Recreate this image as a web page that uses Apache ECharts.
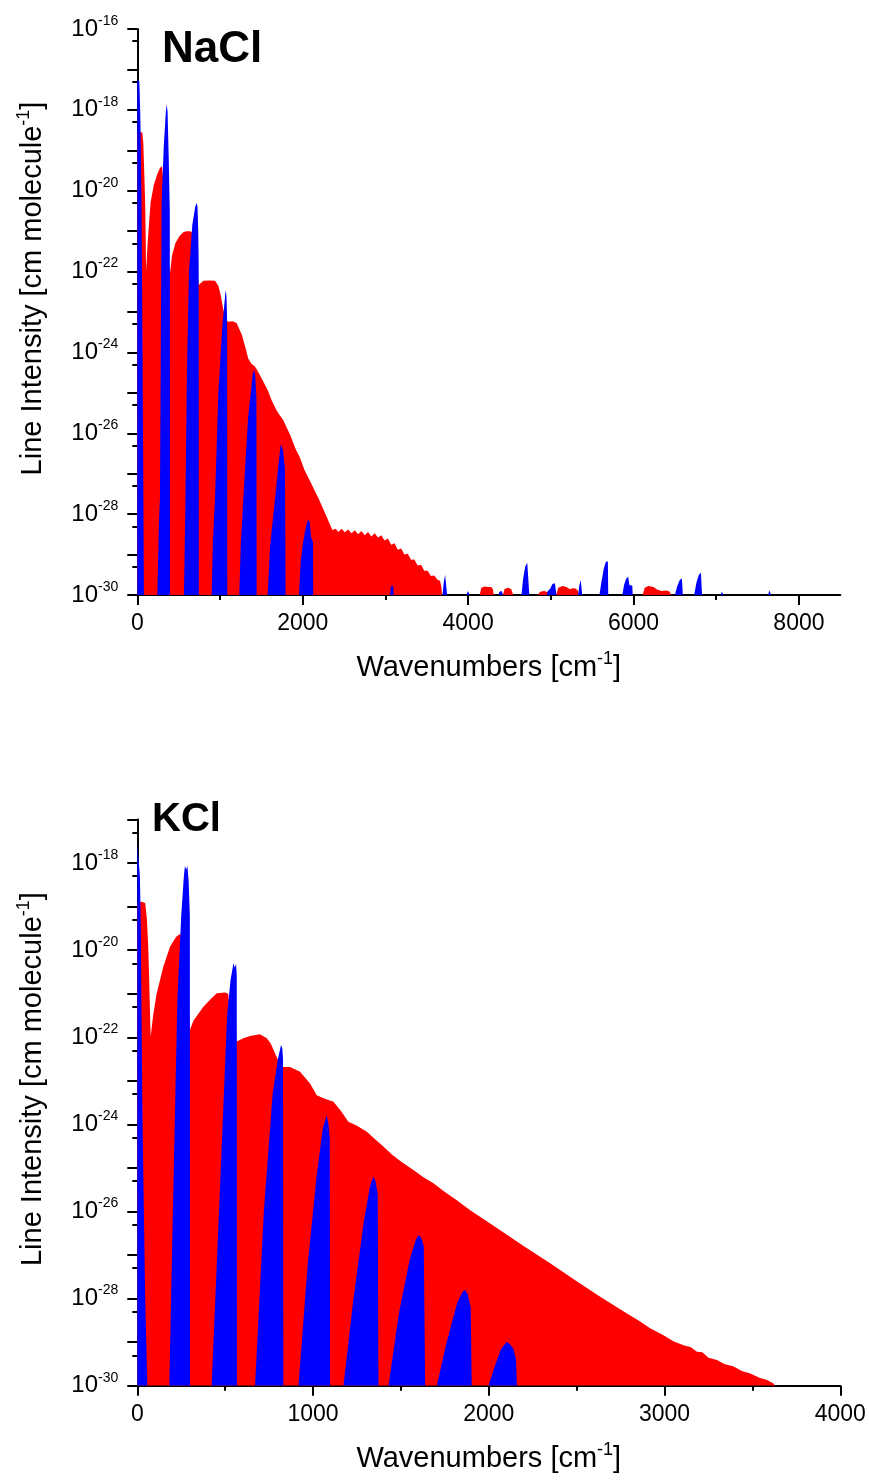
<!DOCTYPE html>
<html>
<head>
<meta charset="utf-8">
<title>NaCl / KCl line intensities</title>
<script src="https://cdn.jsdelivr.net/npm/echarts@6/dist/echarts.min.js"></script>
<style>
    html, body { margin: 0; padding: 0; background: #fff; }
    #chart { width: 869px; height: 1481px; }
</style>
</head>
<body>
<div id="chart"></div>
<script>
    // values are [wavenumber (cm-1), log10 of line intensity]
    const naclRed = [
        [0, -18.6], [33, -18.55], [60, -18.56], [72, -18.8], [82, -19.4], [95, -20.3], [102, -21.2], [106, -22.0],
        [125, -21.3], [160, -20.3], [200, -19.85], [240, -19.6], [270, -19.45], [299, -19.39], [320, -19.42], [345, -20.5], [380, -21.8], [395, -22.05],
        [420, -21.6], [460, -21.3], [510, -21.12], [560, -21.02], [597, -21.0], [640, -21.0], [672, -21.05], [700, -21.2], [722, -21.8], [742, -22.33],
        [800, -22.23], [870, -22.22], [940, -22.23], [980, -22.35], [1010, -22.6], [1040, -22.95], [1075, -23.2], [1100, -23.24], [1150, -23.23],
        [1201, -23.27], [1265, -23.57], [1310, -23.9], [1341, -24.15], [1380, -24.28], [1422, -24.35], [1445, -24.42], [1480, -24.55], [1523, -24.72],
        [1580, -24.95], [1624, -25.18], [1680, -25.42], [1720, -25.55], [1764, -25.67], [1850, -26.05], [1918, -26.41], [1966, -26.6], [2020, -26.9],
        [2103, -27.24], [2200, -27.65], [2288, -28.06], [2358, -28.39],
        [2400, -28.36], [2430, -28.44], [2470, -28.36], [2510, -28.45], [2550, -28.38], [2590, -28.47], [2630, -28.4], [2670, -28.5], [2710, -28.42],
        [2750, -28.52], [2790, -28.44], [2830, -28.55], [2870, -28.47], [2910, -28.58], [2950, -28.52], [2990, -28.65], [3030, -28.6], [3070, -28.76],
        [3110, -28.72], [3150, -28.88], [3190, -28.85], [3230, -29.0], [3270, -28.98], [3310, -29.13], [3350, -29.12], [3390, -29.27], [3430, -29.25],
        [3470, -29.4], [3510, -29.4], [3550, -29.53], [3590, -29.52], [3630, -29.62], [3660, -29.65], [3677, -29.8], [3685, -30],
        [4140, -30], [4160, -29.82], [4200, -29.79], [4240, -29.8], [4280, -29.8], [4300, -29.86], [4310, -30],
        [4420, -30], [4440, -29.85], [4480, -29.82], [4520, -29.85], [4545, -30],
        [4845, -30], [4870, -29.92], [4920, -29.9], [4965, -29.93], [4970, -30],
        [5065, -30], [5090, -29.82], [5140, -29.78], [5190, -29.8], [5229, -29.86], [5260, -29.83], [5300, -29.84], [5330, -29.9], [5335, -30],
        [6110, -30], [6135, -29.82], [6180, -29.78], [6240, -29.8], [6290, -29.87], [6340, -29.9], [6400, -29.89], [6440, -29.92], [6450, -30]
    ];
    const naclBlue = [
        [0, -17.26], [25, -17.3], [35, -18.0], [40, -18.6], [50, -20.2], [60, -23], [72, -27], [80, -30],
        [242, -30], [262, -28.2], [274, -27.6], [285, -23.5], [295, -20.23], [320, -18.9], [345, -18.05], [356, -17.86], [366, -18.05], [380, -19.2], [393, -20.5], [395, -30],
        [564, -30], [580, -28], [600, -24.5], [625, -22.0], [665, -20.85], [700, -20.4], [718, -20.3], [728, -20.4], [737, -21.0], [742, -21.8], [744, -30],
        [899, -30], [915, -28.6], [939, -27.65], [980, -25.0], [1030, -23.3], [1068, -22.46], [1078, -22.6], [1085, -23.1], [1088, -30],
        [1233, -30], [1250, -28.8], [1281, -27.65], [1340, -25.6], [1395, -24.55], [1410, -24.43], [1425, -24.55], [1440, -25.1], [1443, -30],
        [1576, -30], [1605, -28.8], [1664, -27.65], [1700, -26.9], [1730, -26.35], [1737, -26.27], [1760, -26.4], [1785, -26.85], [1793, -30],
        [1954, -30], [1975, -29.2], [2000, -28.75], [2035, -28.35], [2065, -28.13], [2085, -28.2], [2100, -28.55], [2125, -28.7], [2127, -30],
        [3055, -30], [3065, -29.82], [3080, -29.75], [3095, -29.8], [3098, -30],
        [3690, -30], [3705, -29.7], [3722, -29.5], [3738, -29.46], [3746, -30],
        [3981, -30], [3995, -29.9], [4010, -29.87], [4021, -30],
        [4365, -30], [4380, -29.92], [4405, -29.9], [4422, -30],
        [4645, -30], [4665, -29.6], [4690, -29.3], [4715, -29.2], [4735, -29.22], [4740, -30],
        [4950, -30], [4962, -29.9], [4978, -29.92], [4990, -29.85], [5020, -29.73], [5050, -29.71], [5066, -29.75], [5068, -30],
        [5330, -30], [5345, -29.75], [5362, -29.63], [5375, -29.66], [5380, -30],
        [5588, -30], [5610, -29.7], [5640, -29.35], [5665, -29.18], [5690, -29.17], [5694, -30],
        [5865, -30], [5885, -29.75], [5910, -29.6], [5935, -29.55], [5946, -29.57], [5950, -29.75], [5985, -29.77], [5990, -30],
        [6501, -30], [6525, -29.8], [6560, -29.62], [6585, -29.59], [6594, -29.62], [6596, -30],
        [6733, -30], [6760, -29.7], [6790, -29.5], [6815, -29.45], [6825, -29.47], [6828, -30],
        [7055, -30], [7065, -29.92], [7080, -29.9], [7090, -30],
        [7630, -30], [7640, -29.88], [7655, -29.85], [7665, -30]
    ];
    const kclRed = [
        [0, -18.9], [25, -18.89], [45, -18.92], [55, -19.3], [62, -19.9], [68, -20.7], [72, -21.4], [76, -21.99],
        [90, -21.5], [110, -21.0], [148, -20.38], [186, -19.92], [220, -19.7], [243, -19.63], [258, -19.66], [270, -20.2], [285, -21.0], [300, -21.83],
        [319, -21.62], [376, -21.3], [414, -21.14], [452, -20.99], [500, -20.97], [517, -21.0], [530, -21.5], [550, -21.95], [566, -22.1],
        [600, -22.03], [641, -21.97], [698, -21.93], [737, -22.02], [760, -22.15], [784, -22.37], [810, -22.6], [831, -22.68],
        [869, -22.68], [926, -22.79], [983, -23.06], [1021, -23.33], [1060, -23.4], [1116, -23.48], [1160, -23.7], [1201, -23.94], [1250, -24.03],
        [1306, -24.17], [1350, -24.33], [1400, -24.51], [1450, -24.7], [1500, -24.85], [1571, -25.05], [1630, -25.22], [1685, -25.35], [1750, -25.55],
        [1818, -25.74], [1894, -25.97], [1980, -26.2], [2065, -26.43], [2200, -26.8], [2349, -27.19], [2500, -27.6], [2634, -27.96], [2786, -28.34],
        [2850, -28.5], [2918, -28.68], [2994, -28.84], [3050, -28.98], [3108, -29.07], [3150, -29.12], [3184, -29.22], [3215, -29.23], [3250, -29.36],
        [3298, -29.41], [3340, -29.5], [3393, -29.56], [3440, -29.66], [3488, -29.72], [3540, -29.82], [3583, -29.87], [3620, -29.95], [3630, -30],
        [3665, -30], [3672, -29.97], [3700, -29.97], [3706, -30]
    ];
    const kclBlue = [
        [0, -17.55], [8, -17.55], [15, -18.3], [20, -19.5], [24, -21.5], [30, -24], [45, -28], [57, -30],
        [182, -30], [205, -25.5], [228, -21.14], [250, -19.2], [265, -18.3], [271, -18.07], [278, -18.15], [285, -18.07], [292, -18.4], [299, -19.2], [300, -30],
        [423, -30], [470, -25.5], [511, -21.5], [530, -20.7], [547, -20.3], [554, -20.4], [562, -20.32], [566, -20.6], [567, -30],
        [670, -30], [720, -26], [770, -23.3], [800, -22.5], [818, -22.18], [825, -22.25], [829, -22.5], [831, -30],
        [917, -30], [970, -27.2], [1020, -25.2], [1055, -24.1], [1078, -23.79], [1088, -24.0], [1095, -24.3], [1097, -30],
        [1173, -30], [1230, -28], [1290, -26.2], [1325, -25.4], [1343, -25.2], [1355, -25.3], [1368, -25.6], [1372, -30],
        [1429, -30], [1490, -28.3], [1550, -27.1], [1585, -26.65], [1600, -26.54], [1615, -26.6], [1630, -26.8], [1638, -30],
        [1704, -30], [1760, -29], [1820, -28.1], [1850, -27.85], [1865, -27.8], [1880, -27.9], [1897, -28.2], [1903, -30],
        [1998, -30], [2030, -29.6], [2070, -29.15], [2103, -28.99], [2120, -29.05], [2140, -29.15], [2155, -29.4], [2160, -30]
    ];

    // axis ticks (y values are decade exponents)
    const naclXMajor = [0, 2000, 4000, 6000, 8000];
    const naclXMinor = [1000, 3000, 5000, 7000];
    const kclXMajor = [0, 1000, 2000, 3000, 4000];
    const kclXMinor = [500, 1500, 2500, 3500];
    const naclDecades = [-16, -17, -18, -19, -20, -21, -22, -23, -24, -25, -26, -27, -28, -29, -30];
    const naclLabelExp = [-16, -18, -20, -22, -24, -26, -28, -30];
    const kclDecades = [-17, -18, -19, -20, -21, -22, -23, -24, -25, -26, -27, -28, -29, -30];
    const kclLabelExp = [-18, -20, -22, -24, -26, -28, -30];

    const FONT = '"Liberation Sans", Arial, sans-serif';
    const LOG5 = Math.log10(5);

    let myChart = echarts.init(document.getElementById('chart'));

    function areaSeries(data, color, idx) {
        return {
            type: 'line',
            xAxisIndex: idx,
            yAxisIndex: idx,
            data: data,
            showSymbol: false,
            symbol: 'none',
            silent: true,
            lineStyle: {width: 0},
            itemStyle: {color: color},
            areaStyle: {color: color, opacity: 1, origin: 'start'}
        };
    }

    function xMain(grid, max, ticks) {
        return {
            type: 'value', gridIndex: grid, min: 0, max: max, position: 'bottom',
            axisLine: {show: true, onZero: false, lineStyle: {color: '#000', width: 2}},
            axisTick: {show: true, length: 10, customValues: ticks, lineStyle: {color: '#000', width: 2}},
            axisLabel: {customValues: ticks, margin: 17, color: '#000', fontSize: 23, fontFamily: FONT, formatter: v => String(v)},
            splitLine: {show: false},
            name: 'Wavenumbers [cm{sup|-1}]',
            nameLocation: 'middle',
            nameGap: 55,
            nameTextStyle: {
                color: '#000', fontSize: 29, fontFamily: FONT, lineHeight: 36,
                rich: {sup: {fontSize: 18, lineHeight: 18, verticalAlign: 'top', fontFamily: FONT, color: '#000'}}
            }
        };
    }

    function xMinor(grid, max, ticks) {
        return {
            type: 'value', gridIndex: grid, min: 0, max: max, position: 'bottom',
            axisLine: {show: false},
            axisTick: {show: true, length: 5, customValues: ticks, lineStyle: {color: '#000', width: 2}},
            axisLabel: {show: false},
            splitLine: {show: false}
        };
    }

    function yMain(grid, maxExp, decades, labels) {
        return {
            type: 'value', gridIndex: grid, min: -30, max: maxExp,
            axisLine: {show: true, onZero: false, lineStyle: {color: '#000', width: 2}},
            axisTick: {show: true, length: 10, customValues: decades, lineStyle: {color: '#000', width: 2}},
            axisLabel: {
                customValues: labels,
                margin: 19, color: '#000', fontSize: 24, fontFamily: FONT, lineHeight: 30,
                formatter: v => '10{sup|' + Math.round(v) + '}',
                rich: {sup: {fontSize: 14, lineHeight: 15, verticalAlign: 'top', fontFamily: FONT, color: '#000'}}
            },
            splitLine: {show: false},
            name: 'Line Intensity [cm molecule{sup|-1}]',
            nameLocation: 'middle',
            nameGap: 86,
            nameTextStyle: {
                color: '#000', fontSize: 29, fontFamily: FONT, lineHeight: 36, padding: [0, 0, 0, 47],
                rich: {sup: {fontSize: 18, lineHeight: 18, verticalAlign: 'top', fontFamily: FONT, color: '#000'}}
            }
        };
    }

    function yMinor(grid, maxExp, decades) {
        // short ticks sit at 5 x 10^(n-1), just below each decade
        return {
            type: 'value', gridIndex: grid, min: -30, max: maxExp,
            axisLine: {show: false},
            axisTick: {show: true, length: 5, customValues: decades.slice(0, -1).map(e => e - 1 + LOG5), lineStyle: {color: '#000', width: 2}},
            axisLabel: {show: false},
            splitLine: {show: false}
        };
    }

    const topGrid = {left: 137.3, top: 29, width: 703, height: 566};
    const botGrid = {left: 137.3, top: 819.5, width: 703, height: 566.2};

    myChart.setOption({
        animation: false,
        backgroundColor: '#fff',
        title: [
            {text: 'NaCl', left: 162, top: 28, padding: 0, textStyle: {fontSize: 44, fontWeight: 'bold', fontFamily: FONT, color: '#000'}},
            {text: 'KCl', left: 152, top: 800, padding: 0, textStyle: {fontSize: 40, fontWeight: 'bold', fontFamily: FONT, color: '#000'}}
        ],
        grid: [topGrid, botGrid, topGrid, botGrid],
        xAxis: [
            xMain(0, 8500, naclXMajor),
            xMain(1, 4000, kclXMajor),
            xMinor(2, 8500, naclXMinor),
            xMinor(3, 4000, kclXMinor)
        ],
        yAxis: [
            yMain(0, -16, naclDecades, naclLabelExp),
            yMain(1, -17, kclDecades, kclLabelExp),
            yMinor(2, -16, naclDecades),
            yMinor(3, -17, kclDecades)
        ],
        series: [
            areaSeries(naclRed, '#ff0000', 0),
            areaSeries(naclBlue, '#0000ff', 0),
            areaSeries(kclRed, '#ff0000', 1),
            areaSeries(kclBlue, '#0000ff', 1)
        ]
    });
</script>
</body>
</html>
